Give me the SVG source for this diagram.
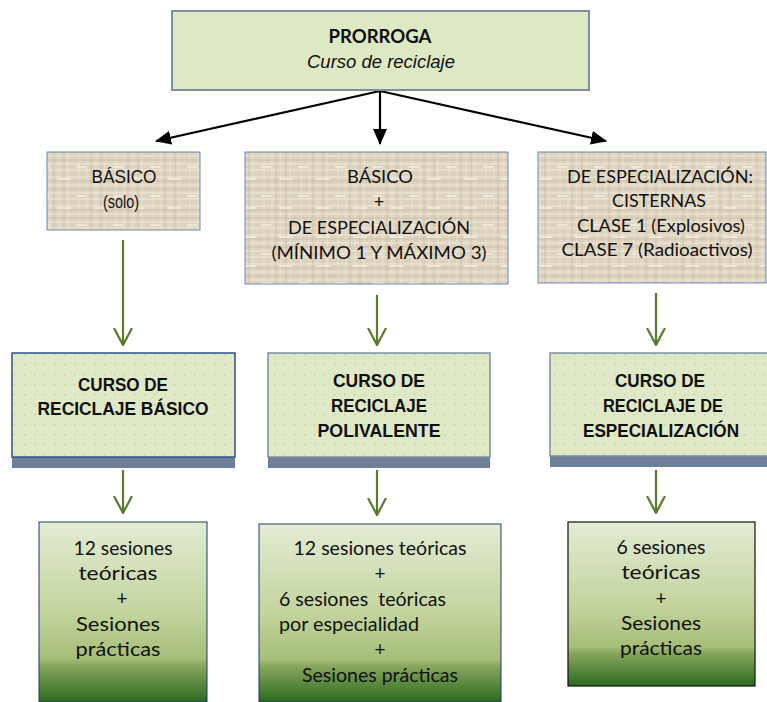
<svg xmlns="http://www.w3.org/2000/svg" width="767" height="702" viewBox="0 0 767 702">
<style>
.cal{font-family:Lato,"Open Sans","Liberation Sans",sans-serif;fill:#111;text-anchor:middle}
.ari{font-family:"Liberation Sans",Arial,sans-serif;fill:#111;text-anchor:middle}
.b{font-weight:bold}
.st{text-anchor:start}
.blk{stroke:#000;stroke-width:2.2;fill:none}
.grn{stroke:#5b7a2e;stroke-width:2.2;fill:none}
.burlap{stroke:#6b8cb8;stroke-width:1}
.top{fill:#dde8c5;stroke:#7d8fa0;stroke-width:2}
.mid{stroke:#2f4f8a;stroke-width:1.5}
.bar{fill:#6e7f97}
.grad{stroke:#1e3a6a;stroke-width:1}
</style>
<defs>
<pattern id="burlap" width="37" height="29" patternUnits="userSpaceOnUse">
<rect width="37" height="29" fill="#dcd2bd"/>
<path d="M0 3H37M0 11H37M0 19H37M0 25H37" stroke="#ebe4d4" stroke-width="1.4"/>
<path d="M5 0V29M13 0V29M22 0V29M31 0V29" stroke="#e9e2d2" stroke-width="1.2"/>
<path d="M0 7H37M0 15H37M17 0V29M27 0V29" stroke="#c9bda5" stroke-width="0.8"/>
<path d="M2 22H12M20 5H34" stroke="#f3eee4" stroke-width="1.6"/>
</pattern>
<pattern id="dots" width="10" height="10" patternUnits="userSpaceOnUse">
<rect width="10" height="10" fill="#dfe9c8"/>
<rect x="4" y="4" width="1.3" height="1.3" fill="#b9cd92"/>
</pattern>
<linearGradient id="g" x1="0" y1="0" x2="0" y2="1">
<stop offset="0" stop-color="#e3ecd4"/>
<stop offset="0.5" stop-color="#c3d49e"/>
<stop offset="0.76" stop-color="#a6be78"/>
<stop offset="0.8" stop-color="#87a65d"/>
<stop offset="1" stop-color="#2a6a1e"/>
</linearGradient>
<marker id="ab" markerWidth="16" markerHeight="14" refX="15" refY="7" orient="auto" markerUnits="userSpaceOnUse" viewBox="0 0 16 14">
<path d="M0 0L16 7L0 14Z" fill="#000"/>
</marker>
<marker id="ag" markerWidth="18" markerHeight="20" refX="17" refY="10" orient="auto" markerUnits="userSpaceOnUse" viewBox="0 0 18 20">
<path d="M0 1L17 10L0 19" fill="none" stroke="#5b7a2e" stroke-width="2.2"/>
</marker>
</defs>
<rect width="767" height="702" fill="#fff"/>

<g id="connectors">
<path class="blk" d="M380 91L156 141" marker-end="url(#ab)"/>
<path class="blk" d="M380 91V144" marker-end="url(#ab)"/>
<path class="blk" d="M380 91L606 141" marker-end="url(#ab)"/>
<path class="grn" d="M123 240V345" marker-end="url(#ag)"/>
<path class="grn" d="M377 295V345" marker-end="url(#ag)"/>
<path class="grn" d="M656 293V345" marker-end="url(#ag)"/>
<path class="grn" d="M123 470V513" marker-end="url(#ag)"/>
<path class="grn" d="M377 470V515" marker-end="url(#ag)"/>
<path class="grn" d="M656 470V513" marker-end="url(#ag)"/>
</g>

<g id="prorroga">
<rect class="top" x="172" y="11" width="417" height="79"/>
<text class="cal b" x="380" y="43" font-size="19" textLength="103" lengthAdjust="spacingAndGlyphs">PRORROGA</text>
<text class="ari" x="381" y="68" font-size="19" font-style="italic" textLength="148" lengthAdjust="spacingAndGlyphs">Curso de reciclaje</text>
</g>

<g id="basico">
<rect x="47" y="152" width="153" height="78" fill="url(#burlap)" class="burlap"/>
<text class="ari" x="124" y="183" font-size="18" textLength="65" lengthAdjust="spacingAndGlyphs">BÁSICO</text>
<text class="ari" x="121" y="208" font-size="18" textLength="36" lengthAdjust="spacingAndGlyphs">(solo)</text>
</g>

<g id="basico-espec">
<rect x="245" y="152" width="263" height="132" fill="url(#burlap)" class="burlap"/>
<text class="cal" x="380" y="183" font-size="18" textLength="66" lengthAdjust="spacingAndGlyphs">BÁSICO</text>
<text class="cal" x="379" y="208" font-size="18">+</text>
<text class="cal" x="379" y="234" font-size="18" textLength="182" lengthAdjust="spacingAndGlyphs">DE ESPECIALIZACIÓN</text>
<text class="cal" x="379" y="259" font-size="18" textLength="215" lengthAdjust="spacingAndGlyphs">(MÍNIMO 1 Y MÁXIMO 3)</text>
</g>

<g id="especializacion">
<rect x="538" y="152" width="228" height="131" fill="url(#burlap)" class="burlap"/>
<text class="cal" x="660" y="183" font-size="18" textLength="186" lengthAdjust="spacingAndGlyphs">DE ESPECIALIZACIÓN:</text>
<text class="cal" x="659" y="207" font-size="18" textLength="94" lengthAdjust="spacingAndGlyphs">CISTERNAS</text>
<text class="cal" x="661" y="232" font-size="18" textLength="168" lengthAdjust="spacingAndGlyphs">CLASE 1 (Explosivos)</text>
<text class="cal" x="657" y="256" font-size="18" textLength="191" lengthAdjust="spacingAndGlyphs">CLASE 7 (Radioactivos)</text>
</g>

<g id="curso-basico">
<rect class="bar" x="12" y="457" width="223" height="11"/>
<rect class="mid" x="12" y="353" width="223" height="104" fill="url(#dots)"/>
<text class="ari b" x="123" y="391" font-size="19" textLength="90" lengthAdjust="spacingAndGlyphs">CURSO DE</text>
<text class="ari b" x="123" y="415" font-size="19" textLength="171" lengthAdjust="spacingAndGlyphs">RECICLAJE BÁSICO</text>
</g>

<g id="curso-polivalente">
<rect class="bar" x="268" y="457" width="222" height="11"/>
<rect x="268" y="353" width="222" height="104" fill="url(#dots)" stroke="#7d8fa0" stroke-width="1.5"/>
<text class="ari b" x="379" y="387" font-size="19" textLength="92" lengthAdjust="spacingAndGlyphs">CURSO DE</text>
<text class="ari b" x="379" y="412" font-size="19" textLength="96" lengthAdjust="spacingAndGlyphs">RECICLAJE</text>
<text class="ari b" x="379" y="437" font-size="19" textLength="123" lengthAdjust="spacingAndGlyphs">POLIVALENTE</text>
</g>

<g id="curso-especializacion">
<rect class="bar" x="550" y="456" width="217" height="11"/>
<rect x="550" y="353" width="218" height="103" fill="url(#dots)" stroke="#7d8fa0" stroke-width="1.5"/>
<text class="ari b" x="660" y="387" font-size="19" textLength="90" lengthAdjust="spacingAndGlyphs">CURSO DE</text>
<text class="ari b" x="663" y="412" font-size="19" textLength="120" lengthAdjust="spacingAndGlyphs">RECICLAJE DE</text>
<text class="ari b" x="661" y="437" font-size="19" textLength="156" lengthAdjust="spacingAndGlyphs">ESPECIALIZACIÓN</text>
</g>

<g id="sesiones-basico">
<rect class="grad" x="39" y="522" width="168" height="180" fill="url(#g)"/>
<text class="cal" x="123" y="555" font-size="19" textLength="99" lengthAdjust="spacingAndGlyphs">12 sesiones</text>
<text class="cal" x="118" y="580" font-size="19" textLength="79" lengthAdjust="spacingAndGlyphs">teóricas</text>
<text class="cal" x="122" y="605" font-size="19">+</text>
<text class="cal" x="118" y="631" font-size="19" textLength="84" lengthAdjust="spacingAndGlyphs">Sesiones</text>
<text class="cal" x="118" y="656" font-size="19" textLength="85" lengthAdjust="spacingAndGlyphs">prácticas</text>
</g>

<g id="sesiones-polivalente">
<rect class="grad" x="259" y="524" width="242" height="178" fill="url(#g)"/>
<text class="cal" x="380" y="555" font-size="19" textLength="173" lengthAdjust="spacingAndGlyphs">12 sesiones teóricas</text>
<text class="cal" x="380" y="580" font-size="19">+</text>
<text class="cal st" x="279" y="606" font-size="19" textLength="167" lengthAdjust="spacingAndGlyphs" style="white-space:pre">6 sesiones  teóricas</text>
<text class="cal st" x="279" y="631" font-size="19" textLength="140" lengthAdjust="spacingAndGlyphs">por especialidad</text>
<text class="cal" x="380" y="656" font-size="19">+</text>
<text class="cal" x="380" y="682" font-size="19" textLength="156" lengthAdjust="spacingAndGlyphs">Sesiones prácticas</text>
</g>

<g id="sesiones-especializacion">
<rect x="568" y="522" width="187" height="164" fill="url(#g)" stroke="#111" stroke-width="1.2"/>
<text class="cal" x="661" y="554" font-size="19" textLength="89" lengthAdjust="spacingAndGlyphs">6 sesiones</text>
<text class="cal" x="661" y="579" font-size="19" textLength="79" lengthAdjust="spacingAndGlyphs">teóricas</text>
<text class="cal" x="661" y="605" font-size="19">+</text>
<text class="cal" x="661" y="630" font-size="19" textLength="80" lengthAdjust="spacingAndGlyphs">Sesiones</text>
<text class="cal" x="661" y="655" font-size="19" textLength="82" lengthAdjust="spacingAndGlyphs">prácticas</text>
</g>
</svg>
